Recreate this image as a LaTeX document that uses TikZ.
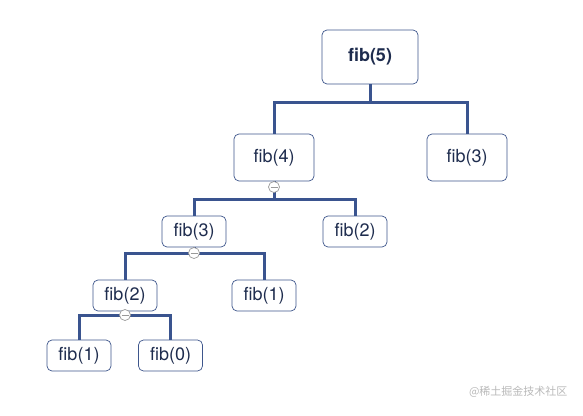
\documentclass[tikz,border=0pt]{standalone}
\usepackage{fontspec}
\setmainfont{TeX Gyre Heros}
\newfontfamily\cjk{Noto Sans CJK SC}
\usepackage{tikz}
\usetikzlibrary{positioning}
\definecolor{linkblue}{RGB}{58,84,143}
\definecolor{boxblue}{RGB}{62,86,140}
\definecolor{textblue}{RGB}{30,44,78}
\tikzset{
    x=1pt, y=-1pt, % pixel-like units, y grows downwards
    call/.style={draw=boxblue, line width=0.7pt, rounded corners=5pt, fill=white,
        text=textblue, font=\fontsize{18}{21}\selectfont, inner sep=0pt}, % one fib call
    bigcall/.style={call, minimum width=80pt, minimum height=47pt},
    smallcall/.style={call, minimum width=64pt, minimum height=31pt},
    link/.style={draw=linkblue, line width=3pt}, % tree branches
    fold/.style={circle, draw=gray!80, fill=white, line width=0.7pt, minimum size=11pt, inner sep=0pt}, % collapse marker
}
\newcommand{\foldmark}[2]{%
    \node[fold] (#2) at (#1) {};
    \draw[gray!80, line width=0.7pt] ([xshift=-3.5pt]#2.center) -- ([xshift=3.5pt]#2.center);
}
\begin{document}
\begin{tikzpicture}
    \useasboundingbox (0,0) rectangle (583,415);
    % calls
    \node[call, minimum width=96pt, minimum height=54pt, font=\fontsize{18}{21}\selectfont\bfseries] (f5) at (370,57) {fib(5)};
    \node[bigcall] (f4) at (274,157.5) {fib(4)};
    \node[bigcall] (f3r) at (467,157.5) {fib(3)};
    \node[smallcall] (f3) at (194,231.5) {fib(3)};
    \node[smallcall] (f2r) at (355,231.5) {fib(2)};
    \node[smallcall] (f2) at (125,295.5) {fib(2)};
    \node[smallcall] (f1r) at (264,295.5) {fib(1)};
    \node[smallcall] (f1) at (79,355.5) {fib(1)};
    \node[smallcall] (f0) at (170.5,355.5) {fib(0)};
    % junctions
    \coordinate (j5) at (370,102);
    \coordinate (j4) at (274,199);
    \coordinate (j3) at (194,253);
    \coordinate (j2) at (125,315);
    % branches
    \draw[link] (f5.south) -- (j5);
    \draw[link] (f4.north) |- (j5) -| (f3r.north);
    \draw[link] (f4.south) -- (j4);
    \draw[link] (f3.north) |- (j4) -| (f2r.north);
    \draw[link] (f3.south) -- (j3);
    \draw[link] (f2.north) |- (j3) -| (f1r.north);
    \draw[link] (f2.south) -- (j2);
    \draw[link] (f1.north) |- (j2) -| (f0.north);
    % collapse markers
    \foldmark{274,187}{m4}
    \foldmark{j3}{m3}
    \foldmark{j2}{m2}
    % watermark
    \node[text=gray!55, font=\cjk\fontsize{11}{13}\selectfont, anchor=east] (mark) at (571,392) {@稀土掘金技术社区};
\end{tikzpicture}
\end{document}
